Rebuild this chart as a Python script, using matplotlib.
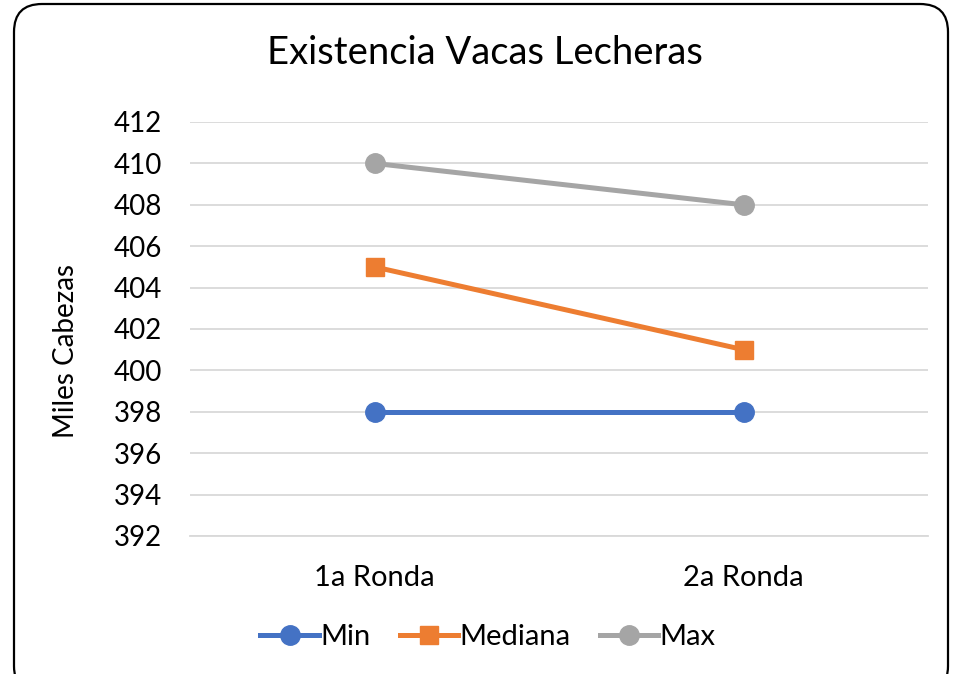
import matplotlib.pyplot as plt
import matplotlib.patches as mpatches
from matplotlib.transforms import IdentityTransform

plt.rcParams['font.family'] = ['Lato', 'DejaVu Sans']

rondas = ['1a Ronda', '2a Ronda']
v_min = [398, 398]
v_mediana = [405, 401]
v_max = [410, 408]
yticks = list(range(392, 413, 2))

fig = plt.figure(figsize=(9.57, 6.74), dpi=100)

left = 190 / 957
width = 738 / 957
bottom = 1 - 536 / 674
height = 414 / 674
ax = fig.add_axes((left, bottom, width, height))

x = range(len(rondas))
ax.plot(x, v_min, color='#4472C4', lw=3.6, marker='o', ms=14, label='Min', zorder=3)
ax.plot(x, v_mediana, color='#ED7D31', lw=3.6, marker='s', ms=13, label='Mediana', zorder=3)
ax.plot(x, v_max, color='#A5A5A5', lw=3.6, marker='o', ms=14, label='Max', zorder=3)

ax.set_xlim(-0.5, 1.5)
ax.set_ylim(392, 412)
ax.set_yticks(yticks)
ax.set_xticks(list(x))
ax.set_xticklabels(rondas)
ax.grid(axis='y', color='#D9D9D9', lw=1.3)
ax.set_axisbelow(True)
for s in ['top', 'right', 'left']:
    ax.spines[s].set_visible(False)
ax.spines['bottom'].set_color('#D9D9D9')
ax.spines['bottom'].set_linewidth(1.3)
ax.tick_params(length=0, labelsize=20, colors='black')
ax.tick_params(axis='y', pad=20)
ax.tick_params(axis='x', labelsize=21, pad=21)

ax.set_ylabel('Miles Cabezas', fontsize=20)
ax.yaxis.set_label_coords(-0.151, 0.447)
fig.text(485 / 957, 1 - 53 / 674, 'Existencia Vacas Lecheras', fontsize=27.5,
         ha='center', va='center')

fig.legend(loc='center', bbox_to_anchor=(488 / 957, 1 - 637 / 674), ncol=3,
           frameon=False, fontsize=21, handlelength=2.0, columnspacing=1.0,
           handletextpad=0.05)

border = mpatches.FancyBboxPatch((14, -20), 934, 690,
                                 boxstyle='round,pad=0,rounding_size=28',
                                 transform=IdentityTransform(), fill=False,
                                 edgecolor='black', lw=1.6)
fig.add_artist(border)

fig.savefig('out.png', dpi=100)
